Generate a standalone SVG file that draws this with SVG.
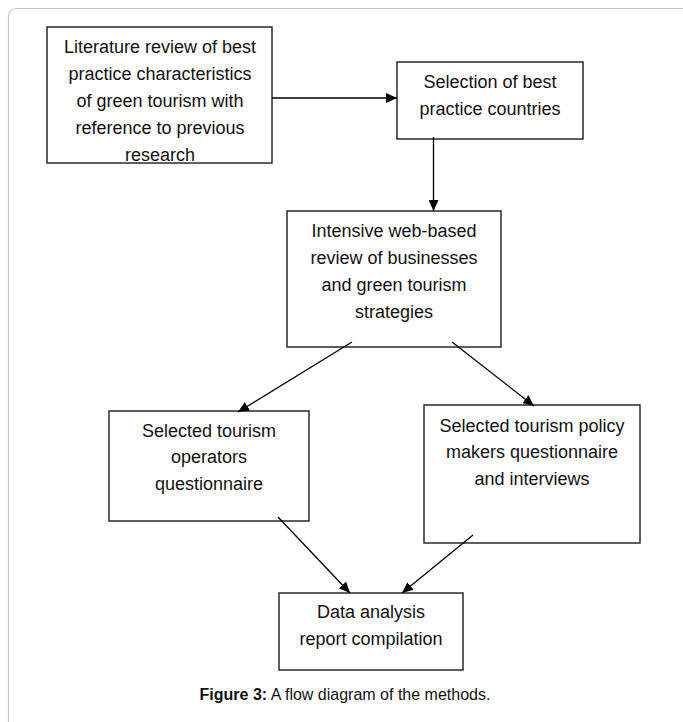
<svg xmlns="http://www.w3.org/2000/svg" width="683" height="722" viewBox="0 0 683 722">
<style>
.box{fill:#fff;stroke:#2a2a2a;stroke-width:1.5}
.t{font-family:"Liberation Sans",Arial,sans-serif;font-size:18px;fill:#111;text-anchor:middle}
.c{stroke:#000;stroke-width:1.3;fill:none}
.cap{font-family:"Liberation Sans",Arial,sans-serif;font-size:16px;fill:#111;text-anchor:middle}
</style>
<defs>
<marker id="ah" markerUnits="userSpaceOnUse" markerWidth="12" markerHeight="10" refX="11" refY="5" orient="auto">
<path d="M0,0 L11,5 L0,10 Z" fill="#000"/>
</marker>
</defs>
<rect x="0" y="0" width="683" height="722" fill="#fff"/>
<rect x="8.5" y="8.5" width="720" height="760" rx="8" ry="8" fill="none" stroke="#c8c8c8" stroke-width="1.2"/>
<g id="n1">
<rect class="box" x="47" y="27" width="225" height="136"/>
<text class="t" x="160" y="53">Literature review of best</text>
<text class="t" x="160" y="80">practice characteristics</text>
<text class="t" x="160" y="107">of green tourism with</text>
<text class="t" x="160" y="134">reference to previous</text>
<text class="t" x="160" y="161">research</text>
</g>
<g id="n2">
<rect class="box" x="397" y="62" width="186" height="77"/>
<text class="t" x="490" y="88">Selection of best</text>
<text class="t" x="490" y="115">practice countries</text>
</g>
<g id="n3">
<rect class="box" x="287" y="211" width="214" height="136"/>
<text class="t" x="394" y="237">Intensive web-based</text>
<text class="t" x="394" y="264">review of businesses</text>
<text class="t" x="394" y="291">and green tourism</text>
<text class="t" x="394" y="318">strategies</text>
</g>
<g id="n4">
<rect class="box" x="109" y="411" width="200" height="110"/>
<text class="t" x="209" y="437">Selected tourism</text>
<text class="t" x="209" y="463">operators</text>
<text class="t" x="209" y="490">questionnaire</text>
</g>
<g id="n5">
<rect class="box" x="424" y="405" width="216" height="138"/>
<text class="t" x="532" y="432">Selected tourism policy</text>
<text class="t" x="532" y="458">makers questionnaire</text>
<text class="t" x="532" y="485">and interviews</text>
</g>
<g id="n6">
<rect class="box" x="279" y="593" width="184" height="77"/>
<text class="t" x="371" y="618">Data analysis</text>
<text class="t" x="371" y="645">report compilation</text>
</g>
<g id="connectors">
<line class="c" x1="272" y1="98" x2="397" y2="98" marker-end="url(#ah)"/>
<line class="c" x1="433.5" y1="137" x2="433.5" y2="211" marker-end="url(#ah)"/>
<line class="c" x1="352" y1="342" x2="238" y2="412" marker-end="url(#ah)"/>
<line class="c" x1="452" y1="342" x2="534" y2="406" marker-end="url(#ah)"/>
<line class="c" x1="278" y1="517" x2="350" y2="593" marker-end="url(#ah)"/>
<line class="c" x1="473" y1="535" x2="402" y2="593" marker-end="url(#ah)"/>
</g>
<text class="cap" x="345" y="700"><tspan font-weight="bold">Figure 3:</tspan> A flow diagram of the methods.</text>
</svg>
